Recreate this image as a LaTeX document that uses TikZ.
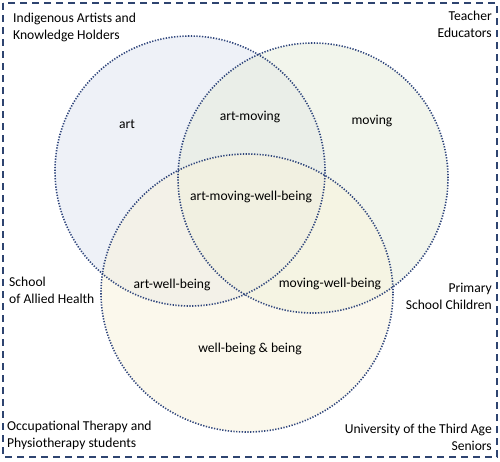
\documentclass[tikz,border=0pt]{standalone}
\usepackage{fontspec}
\setmainfont{Carlito}
\usepackage{tikz}
\definecolor{navy}{RGB}{46,68,112}
\definecolor{dotblue}{RGB}{48,70,124}
\definecolor{artfill}{RGB}{222,228,240}
\definecolor{movefill}{RGB}{230,236,218}
\definecolor{wellfill}{RGB}{248,242,218}
\tikzstyle{venn}=[draw=dotblue,line width=1.6pt,dash pattern=on 1.3pt off 1.5pt]
\tikzstyle{frame}=[draw=navy,line width=1.6pt,dash pattern=on 7pt off 5pt]
\tikzstyle{grouptext}=[inner sep=0pt,font=\fontsize{13.6}{17}\selectfont]
\tikzstyle{regiontext}=[inner sep=0pt,font=\fontsize{13.6}{17}\selectfont]

\begin{document}
\begin{tikzpicture}[x=1pt,y=-1pt]
      \useasboundingbox (0,0) rectangle (500,461);
      % fills first, outlines on top
      \fill[artfill,fill opacity=0.5] (190,171) circle [x radius=135pt,y radius=135pt];
      \fill[movefill,fill opacity=0.5] (313,178) circle [x radius=135pt,y radius=135pt];
      \fill[wellfill,fill opacity=0.5] (247,293) circle [x radius=146pt,y radius=139pt];
      \path[venn] (190,171) circle [x radius=135pt,y radius=135pt];
      \path[venn] (313,178) circle [x radius=135pt,y radius=135pt];
      \path[venn] (247,293) circle [x radius=146pt,y radius=139pt];
      \path[frame] (3,3) rectangle (497,457);

      % regions
      \node[regiontext] (art) at (127,124) {art};
      \node[regiontext] (artmov) at (250,117) {art-moving};
      \node[regiontext] (mov) at (372,121) {moving};
      \node[regiontext] (artmovwell) at (251,197) {art-moving-well-being};
      \node[regiontext] (artwell) at (172,285) {art-well-being};
      \node[regiontext] (movwell) at (330,284) {moving-well-being};
      \node[regiontext] (well) at (250,349) {well-being \& being};

      % groups in the corners
      \node[grouptext,anchor=north west,align=left] (indig) at (13,13)
        {Indigenous Artists and\\Knowledge Holders};
      \node[grouptext,anchor=north east,align=right] (teach) at (492,11)
        {Teacher\\Educators};
      \node[grouptext,anchor=north west,align=left] (allied) at (9,277)
        {School\\of Allied Health};
      \node[grouptext,anchor=north east,align=right] (prim) at (492,283)
        {Primary\\School Children};
      \node[grouptext,anchor=north west,align=left] (occ) at (7,421)
        {Occupational Therapy and\\Physiotherapy students};
      \node[grouptext,anchor=north east,align=right] (u3a) at (492,424)
        {University of the Third Age\\Seniors};
    \end{tikzpicture}
\end{document}
